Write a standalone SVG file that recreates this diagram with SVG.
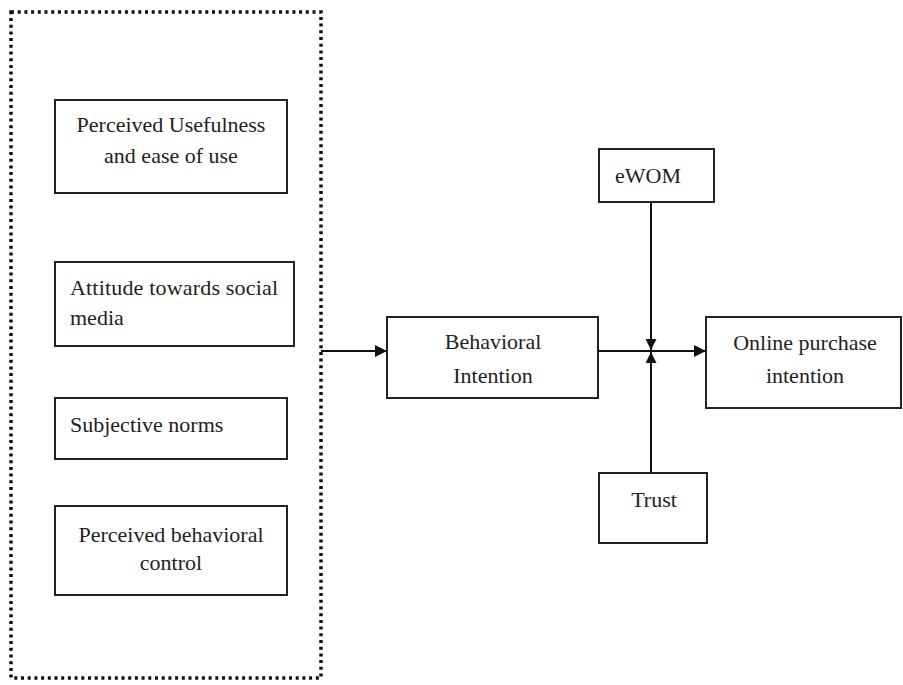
<svg xmlns="http://www.w3.org/2000/svg" width="903" height="685" viewBox="0 0 903 685">
<style>
.box{fill:#fff;stroke:#222;stroke-width:2}
.t{font-family:"Liberation Serif","Times New Roman",serif;font-size:22px;fill:#222}
.c{text-anchor:middle}
.ln{stroke:#111;stroke-width:2;fill:none}
</style>
<defs>
<marker id="ah" viewBox="0 0 10 10" refX="10" refY="5" markerWidth="11" markerHeight="11" markerUnits="userSpaceOnUse" orient="auto">
<path d="M0,0 L10,5 L0,10 z" fill="#111"/>
</marker>
<marker id="ah2" viewBox="0 0 10 10" refX="10" refY="5" markerWidth="12" markerHeight="12" markerUnits="userSpaceOnUse" orient="auto">
<path d="M0,0 L10,5 L0,10 z" fill="#111"/>
</marker>
</defs>
<rect width="903" height="685" fill="#fff"/>
<g id="group-box">
<rect x="11" y="12" width="310" height="666" fill="none" stroke="#111" stroke-width="3.5" stroke-dasharray="3 3.7"/>
</g>
<g id="usefulness">
<rect class="box" x="55" y="100" width="232" height="93"/>
<text class="t c" x="171" y="132">Perceived Usefulness</text>
<text class="t c" x="171" y="163">and ease of use</text>
</g>
<g id="attitude">
<rect class="box" x="55" y="262" width="239" height="84"/>
<text class="t" x="70" y="295" textLength="208" lengthAdjust="spacing">Attitude towards social</text>
<text class="t" x="70" y="325">media</text>
</g>
<g id="norms">
<rect class="box" x="55" y="398" width="232" height="61"/>
<text class="t" x="70" y="432">Subjective norms</text>
</g>
<g id="control">
<rect class="box" x="55" y="506" width="232" height="89"/>
<text class="t c" x="171" y="542">Perceived behavioral</text>
<text class="t c" x="171" y="570">control</text>
</g>
<g id="behavioral">
<rect class="box" x="387" y="317" width="211" height="81"/>
<text class="t c" x="493" y="349">Behavioral</text>
<text class="t c" x="493" y="383">Intention</text>
</g>
<g id="ewom">
<rect class="box" x="599" y="149" width="115" height="53"/>
<text class="t" x="615" y="183">eWOM</text>
</g>
<g id="online">
<rect class="box" x="706" y="317" width="195" height="91"/>
<text class="t c" x="805" y="350">Online purchase</text>
<text class="t c" x="805" y="383">intention</text>
</g>
<g id="trust">
<rect class="box" x="599" y="473" width="108" height="70"/>
<text class="t c" x="654" y="507">Trust</text>
</g>
<g id="connectors">
<line class="ln" x1="321" y1="351" x2="387" y2="351" marker-end="url(#ah2)"/>
<line class="ln" x1="598" y1="351" x2="706" y2="351" marker-end="url(#ah2)"/>
<line class="ln" x1="651" y1="202" x2="651" y2="350" marker-end="url(#ah)"/>
<line class="ln" x1="651" y1="473" x2="651" y2="352" marker-end="url(#ah)"/>
</g>
</svg>
